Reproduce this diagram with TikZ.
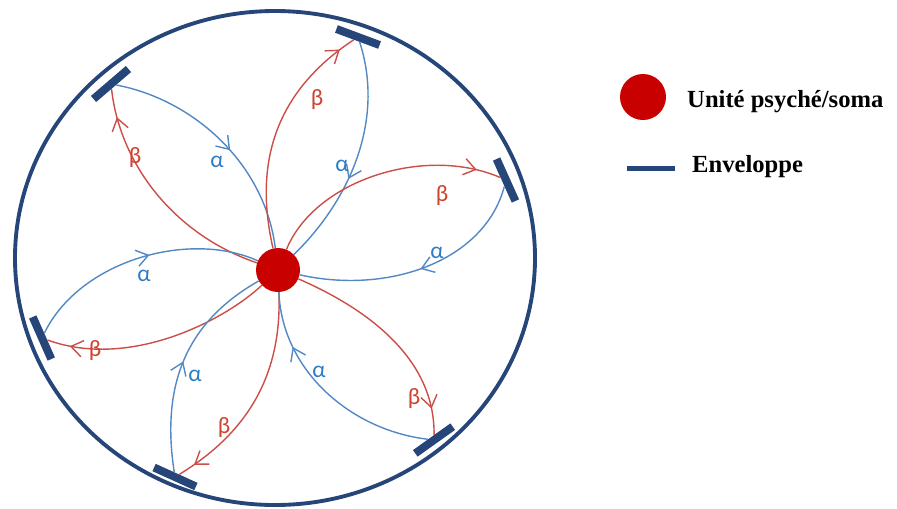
\documentclass[tikz,border=0pt]{standalone}
\usepackage{fontspec}
\setmainfont{Liberation Serif}
\newfontfamily\greekfont{Carlito}
\usetikzlibrary{arrows.meta, decorations.markings}
\definecolor{envblue}{RGB}{38,70,122}
\definecolor{alphablue}{RGB}{82,136,196}
\definecolor{betared}{RGB}{204,78,72}
\definecolor{somared}{RGB}{200,0,0}
\definecolor{alphatext}{RGB}{46,124,196}
\definecolor{betatext}{RGB}{206,66,46}
\tikzset{
  envelope/.style = {draw=envblue, line width=3.3pt},
  bar/.style = {rectangle, fill=envblue, minimum width=13.8mm, minimum height=2.4mm, inner sep=0pt},
  soma/.style = {circle, fill=somared, minimum size=13.2mm, inner sep=0pt},
  alphaline/.style = {draw=alphablue, line width=1.2pt},
  betaline/.style = {draw=betared, line width=1.2pt},
  tipat/.style = {postaction={decorate, decoration={markings,
      mark=at position #1 with {\arrow{Straight Barb[length=10pt, width=14pt, line width=1.2pt]}}}}},
  alphalabel/.style = {text=alphatext, font=\greekfont\fontsize{20}{20}\selectfont, inner sep=0pt},
  betalabel/.style = {text=betatext, font=\greekfont\fontsize{20}{20}\selectfont, inner sep=0pt},
  legend/.style = {font=\bfseries\fontsize{21}{21}\selectfont, anchor=base west, inner sep=0pt}
}
\begin{document}
\begin{tikzpicture}[x=0.3mm, y=-0.3mm]
\useasboundingbox (0,0) rectangle (897,508);

\draw[envelope] (275,258) ellipse [x radius=260, y radius=247];

\node[bar, rotate=40.6] (eA) at (111,84) {};
\node[bar, rotate=-20.4] (eB) at (358,37) {};
\node[bar, rotate=-65.8] (eC) at (506,180) {};
\node[bar, rotate=-66.2] (eD) at (42,338) {};
\node[bar, rotate=-24.4] (eE) at (175,477) {};
\node[bar, rotate=35.5] (eF) at (434,440) {};

\node[soma] (soma) at (278,270) {};

\draw[betaline, tipat=0.88] (soma) .. controls (175,235) and (120,165) .. (eA);
\draw[alphaline, tipat=0.55] (eA) .. controls (195,100) and (265,165) .. (soma);
\draw[betaline, tipat=0.93] (soma) .. controls (255,170) and (270,95) .. (eB);
\draw[alphaline, tipat=0.6] (eB) .. controls (385,120) and (350,200) .. (soma);
\draw[betaline, tipat=0.9] (soma) .. controls (315,180) and (425,145) .. (eC);
\draw[alphaline, tipat=0.5] (eC) .. controls (485,260) and (390,295) .. (soma);
\draw[alphaline, tipat=0.55] (eD) .. controls (80,260) and (190,230) .. (soma);
\draw[betaline, tipat=0.9] (soma) .. controls (225,320) and (130,370) .. (eD);
\draw[alphaline, tipat=0.5] (eE) .. controls (160,380) and (190,320) .. (soma);
\draw[betaline, tipat=0.92] (soma) .. controls (282,370) and (252,430) .. (eE);
\draw[alphaline, tipat=0.75] (eF) .. controls (350,430) and (282,370) .. (soma);
\draw[betaline, tipat=0.88] (soma) .. controls (370,310) and (435,360) .. (eF);

\node[betalabel] (bA) at (135,158) {β};
\node[alphalabel] (aA) at (217,162) {α};
\node[betalabel] (bB) at (317,100) {β};
\node[alphalabel] (aB) at (342,166) {α};
\node[betalabel] (bC) at (442,196) {β};
\node[alphalabel] (aC) at (437,253) {α};
\node[betalabel] (bD) at (95,351) {β};
\node[alphalabel] (aD) at (144,276) {α};
\node[betalabel] (bE) at (224,428) {β};
\node[alphalabel] (aE) at (195,376) {α};
\node[betalabel] (bF) at (414,399) {β};
\node[alphalabel] (aF) at (319,372) {α};

\node[soma, minimum size=13.8mm] (legsoma) at (643,97) {};
\node[legend] (legsomatext) at (687,107) {Unité psyché/soma};
\node[bar, minimum width=14.4mm, minimum height=1.5mm] (legbar) at (651,168) {};
\node[legend] (legbartext) at (692,172) {Enveloppe};
\end{tikzpicture}
\end{document}
